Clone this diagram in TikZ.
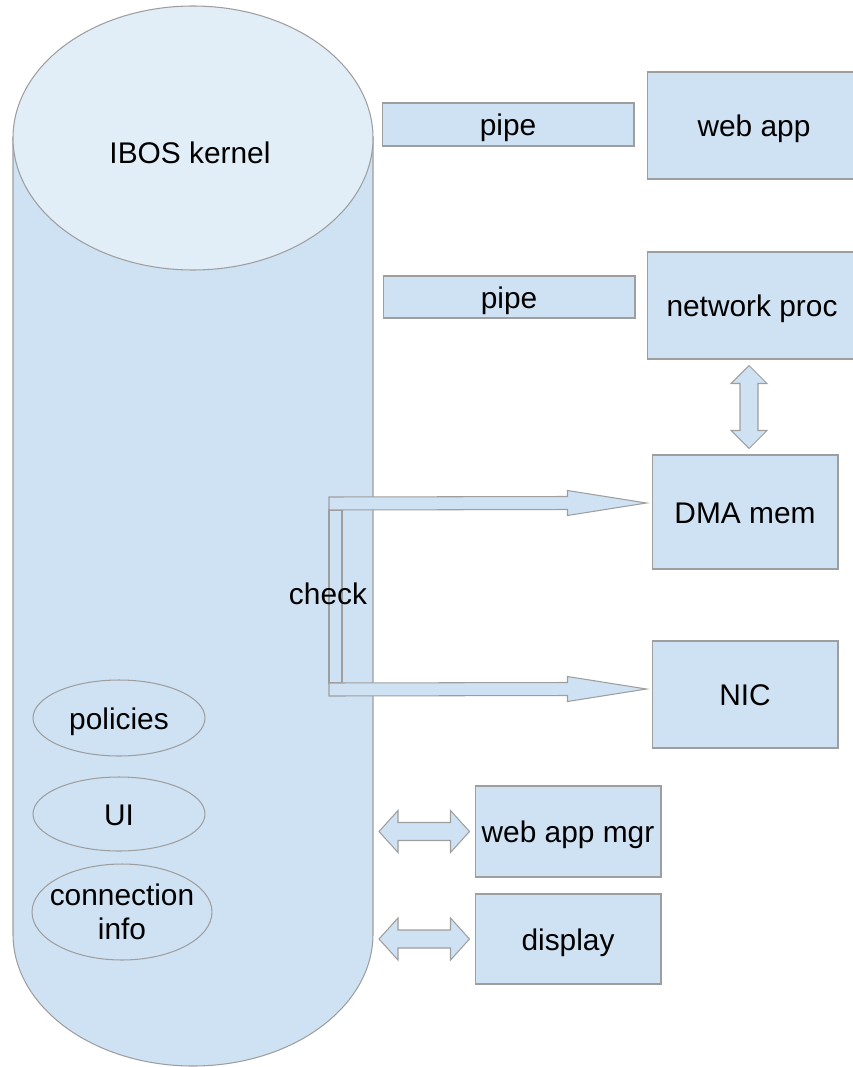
\documentclass[tikz,border=0pt]{standalone}
\usepackage{fontspec}
\setmainfont{Liberation Sans}
\usepackage{tikz}
\usetikzlibrary{calc}
\usetikzlibrary{shapes.geometric}
\definecolor{boxblue}{HTML}{CFE2F3}
\definecolor{topblue}{HTML}{E1EEF8}
\definecolor{edgegray}{HTML}{9E9E9E}
\tikzset{oneline/.style={text height=12.8pt, text depth=0pt}}
\tikzset{box/.style={draw=edgegray, fill=boxblue, line width=0.6pt, inner sep=0pt, oneline}}
\tikzset{oval/.style={ellipse, draw=edgegray, line width=0.6pt, inner sep=0pt, align=center}}
\tikzset{blockarrow/.style={draw=edgegray, fill=boxblue, line width=0.6pt}}

% block arrows (y runs downwards in the picture)
\newcommand{\hdblarrow}[2]{%
  \draw[blockarrow] (#1) -- ($(#1)+(19,-21)$) -- ($(#1)+(19,-9)$) -- ($(#2)+(-19,-9)$) -- ($(#2)+(-19,-21)$) -- (#2)
    -- ($(#2)+(-19,21)$) -- ($(#2)+(-19,9)$) -- ($(#1)+(19,9)$) -- ($(#1)+(19,21)$) -- cycle;}
\newcommand{\vdblarrow}[2]{%
  \draw[blockarrow] (#1) -- ($(#1)+(18,18)$) -- ($(#1)+(9,18)$) -- ($(#2)+(9,-18)$) -- ($(#2)+(18,-18)$) -- (#2)
    -- ($(#2)+(-18,-18)$) -- ($(#2)+(-9,-18)$) -- ($(#1)+(-9,18)$) -- ($(#1)+(-18,18)$) -- cycle;}
\newcommand{\checkarrow}[2]{%
  \draw[blockarrow] ($(#1)+(0,-6.5)$) -- ($(#2)+(-79,-6.5)$) -- ($(#2)+(-79,-12.5)$) -- (#2)
    -- ($(#2)+(-79,12.5)$) -- ($(#2)+(-79,6.5)$) -- ($(#1)+(0,6.5)$) -- cycle;}

\begin{document}
\begin{tikzpicture}[x=0.02cm, y=-0.02cm, every node/.style={font=\fontsize{17}{19.5}\selectfont}]
  \useasboundingbox (0, 0) rectangle (852, 1067);

  % kernel cylinder
  \draw[box] (13, 138) -- (13, 934) arc (180:0:180 and 132) -- (373, 138) -- cycle;
  \draw[box, fill=topblue] (193, 138) ellipse (180 and 132);
  \node at (190, 153) (kern) {IBOS kernel};
  \coordinate (kr) at (373, 0);

  \node[oval, oneline, minimum width=3.44cm, minimum height=1.52cm] at (119, 718) (pol) {policies};
  \node[oval, oneline, minimum width=3.44cm, minimum height=1.48cm] at (119, 814) (ui) {UI};
  \node[oval, inner xsep=-0.2cm, inner ysep=-2pt, minimum width=3.6cm, minimum height=1.92cm] at (122, 912) (conn) {connection\\info};

  \node[box, minimum width=5.04cm, minimum height=0.86cm] at (508, 124.5) (pipeA) {pipe};
  \node[box, minimum width=5.04cm, minimum height=0.84cm] at (509, 297) (pipeB) {pipe};
  \node[box, minimum width=4.28cm, minimum height=2.14cm] at (754, 125.5) (web) {web app};
  \node[box, minimum width=4.2cm, minimum height=2.14cm] at (752, 305.5) (np) {network proc};
  \node[box, minimum width=3.72cm, minimum height=2.28cm] at (745, 512) (dma) {DMA mem};
  \node[box, minimum width=3.72cm, minimum height=2.14cm] at (745, 694.5) (nic) {NIC};
  \node[box, minimum width=3.72cm, minimum height=1.82cm] at (568, 831.5) (mgr) {web app mgr};
  \node[box, minimum width=3.72cm, minimum height=1.8cm] at (568, 939) (disp) {display};

  % network proc <-> DMA mem
  \coordinate (npS) at ($(dma.north |- np.south)+(4, 6)$);
  \coordinate (dmaN) at ($(dma.north)+(4, -6)$);
  \vdblarrow{npS}{dmaN}

  % kernel <-> mgr, display
  \coordinate (mgrL) at ($(kr |- mgr.west)+(6, 0)$);
  \coordinate (mgrR) at ($(mgr.west)+(-5, 0)$);
  \hdblarrow{mgrL}{mgrR}
  \coordinate (dispL) at ($(kr |- disp.west)+(6, 0)$);
  \coordinate (dispR) at ($(disp.west)+(-5, 0)$);
  \hdblarrow{dispL}{dispR}

  % check arrows
  \coordinate (chkA) at (329, 503.5);
  \coordinate (chkB) at (329, 689.5);
  \coordinate (dmaT) at ($(dma.west)+(-5, -9)$);
  \coordinate (nicT) at ($(nic.west)+(-5, -5.5)$);
  \draw[blockarrow] ($(chkA)+(0, 6.5)$) rectangle ($(chkB)+(13, -6.5)$);
  \checkarrow{chkA}{dmaT}
  \checkarrow{chkB}{nicT}
  \node at (328, 594) (chk) {check};
\end{tikzpicture}
\end{document}
